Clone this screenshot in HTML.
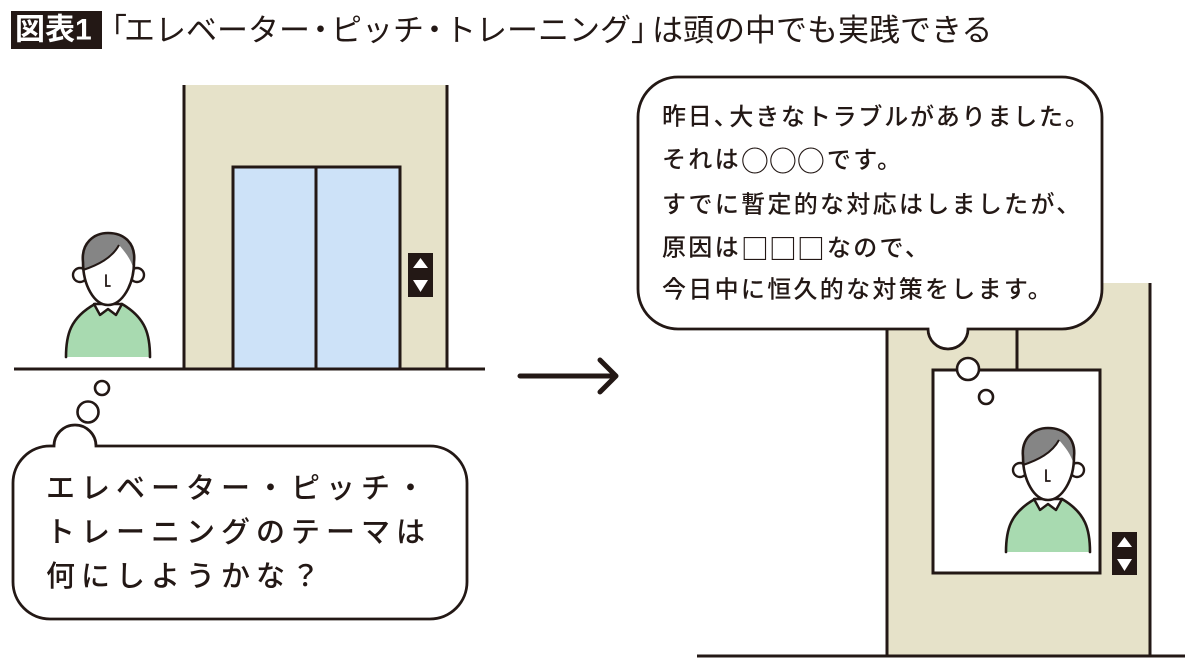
<!DOCTYPE html>
<html><head><meta charset="utf-8"><style>
html,body{margin:0;padding:0;background:#fff;}
svg{display:block;}
text{font-family:"Liberation Sans","Noto Sans CJK JP",sans-serif;}
.cjk{font-family:"Noto Sans CJK JP",sans-serif;}
</style></head><body>
<svg width="1200" height="672" viewBox="0 0 1200 672" xmlns="http://www.w3.org/2000/svg">
<defs>
<g id="person">
  <path d="M66,357 C66,335 70,318 95,304 L122,304 C146,318 150,335 150,357 Z" fill="#a8dab0"/>
  <path d="M66,357 C66,335 70,318 95,304 M122,304 C146,318 150,335 150,357" fill="none" stroke="#231815" stroke-width="2.6" stroke-linecap="round"/>
  <path d="M94,304 L100,315 L108,309 L116,315 L122,304 Z" fill="#fff" stroke="#231815" stroke-width="2.4" stroke-linejoin="round"/>
  <circle cx="80" cy="275" r="7" fill="#fff" stroke="#231815" stroke-width="2.4"/>
  <circle cx="137" cy="275" r="7" fill="#fff" stroke="#231815" stroke-width="2.4"/>
  <path d="M83,262 C81,243 94,233 108,233 C124,233 136,243 134,262 C134,285 122,305 108,305 C94,305 83,285 83,262 Z" fill="#fff"/>
  <path d="M83,270 C80,245 94,232 108,232 C125,232 137,245 134,270 C131,259 125,252 119,245 C112,258 98,265 83,270 Z" fill="#858585"/>
  <path d="M83,262 C81,243 94,233 108,233 C124,233 136,243 134,262 C134,285 122,305 108,305 C94,305 83,285 83,262 Z" fill="none" stroke="#231815" stroke-width="2.6"/>
  <path d="M119,245 C112,258 98,265 83,270" fill="none" stroke="#231815" stroke-width="2"/>
  <path d="M106,275 L106,286 L110,286" fill="none" stroke="#231815" stroke-width="1.8" stroke-linecap="round"/>
</g>
</defs>

<!-- Title -->
<rect x="11" y="11" width="91" height="38" fill="#231815"/>
<text x="15" y="30" font-size="30" font-weight="bold" fill="#fff" dominant-baseline="central">図表1</text>
<text x="96" y="30" font-size="31" fill="#231815" dominant-baseline="central">「<tspan dx="-3">エレベーター</tspan><tspan dx="-5">・</tspan><tspan dx="-5">ピッチ</tspan><tspan dx="-5">・</tspan><tspan dx="-5">トレーニング</tspan>」<tspan dx="-10">は頭の中でも実践できる</tspan></text>

<!-- Left elevator -->
<rect x="184" y="85" width="263" height="284" fill="#e6e2c9"/>
<line x1="184" y1="85" x2="184" y2="369" stroke="#231815" stroke-width="3"/>
<line x1="447" y1="85" x2="447" y2="369" stroke="#231815" stroke-width="3"/>
<rect x="233" y="167" width="167" height="202" fill="#cde2f8" stroke="#231815" stroke-width="3"/>
<line x1="316" y1="167" x2="316" y2="369" stroke="#231815" stroke-width="3"/>
<rect x="408" y="253" width="25" height="44" fill="#231815"/>
<path d="M420.5,258 L428,268 L413,268 Z" fill="#fff"/>
<path d="M413,280 L428,280 L420.5,292 Z" fill="#fff"/>
<line x1="14" y1="369" x2="485" y2="369" stroke="#231815" stroke-width="3"/>

<use href="#person"/>

<!-- left thought -->
<circle cx="102" cy="388" r="7" fill="#fff" stroke="#231815" stroke-width="2.6"/>
<circle cx="88" cy="412" r="10.5" fill="#fff" stroke="#231815" stroke-width="2.6"/>
<path d="M50,446 L54,446 A21 21 0 0 1 96,446 L430,446 A37 37 0 0 1 467,483 L467,582 A37 37 0 0 1 430,619 L50,619 A37 37 0 0 1 13,582 L13,483 A37 37 0 0 1 50,446 Z" fill="#fff" stroke="#231815" stroke-width="2.8"/>
<g font-size="29" fill="#231815" letter-spacing="6" font-weight="500">
<text x="46" y="489" dominant-baseline="central">エレベーター・ピッチ・</text>
<text x="46" y="533" dominant-baseline="central">トレーニングのテーマは</text>
<text x="46" y="577" dominant-baseline="central">何にしようかな？</text>
</g>

<!-- Arrow -->
<path d="M520,376 L616,376 M600,360 L616,376 L600,392" fill="none" stroke="#231815" stroke-width="5" stroke-linecap="round" stroke-linejoin="round"/>

<!-- Right elevator -->
<rect x="887" y="283" width="263" height="373" fill="#e6e2c9"/>
<line x1="887" y1="283" x2="887" y2="656" stroke="#231815" stroke-width="3"/>
<line x1="1150" y1="283" x2="1150" y2="656" stroke="#231815" stroke-width="3"/>
<line x1="1017" y1="320" x2="1017" y2="370" stroke="#231815" stroke-width="3"/>
<rect x="933" y="370" width="167" height="203" fill="#fff" stroke="#231815" stroke-width="3"/>
<rect x="1112" y="532" width="25" height="43" fill="#231815"/>
<path d="M1124.5,537 L1132,547 L1117,547 Z" fill="#fff"/>
<path d="M1117,559 L1132,559 L1124.5,571 Z" fill="#fff"/>
<line x1="697" y1="656" x2="1185" y2="656" stroke="#231815" stroke-width="3"/>

<use href="#person" transform="translate(940,195)"/>

<circle cx="968" cy="369" r="11" fill="#fff" stroke="#231815" stroke-width="2.6"/>
<circle cx="986" cy="397" r="7" fill="#fff" stroke="#231815" stroke-width="2.6"/>

<!-- Right bubble -->
<path d="M678,77 L1062,77 A40 40 0 0 1 1102,117 L1102,289 A40 40 0 0 1 1062,329 L968,329 A20 20 0 0 1 928,329 L678,329 A40 40 0 0 1 638,289 L638,117 A40 40 0 0 1 678,77 Z" fill="#fff" stroke="#231815" stroke-width="2.8"/>
<g font-size="24" fill="#231815" letter-spacing="2.3" font-weight="500">
<text x="662" y="117" dominant-baseline="central" letter-spacing="1.8">昨日<tspan dx="0">、</tspan><tspan dx="-10">大きなトラブルがありました。</tspan></text>
<text x="662" y="160" dominant-baseline="central">それは<tspan class="cjk" font-size="28" letter-spacing="0" dominant-baseline="central">○○○</tspan><tspan dx="2">です。</tspan></text>
<text x="662" y="205" dominant-baseline="central">すでに暫定的な対応はしましたが、</text>
<text x="662" y="248" dominant-baseline="central">原因は<tspan class="cjk" font-size="28" letter-spacing="0" dominant-baseline="central">□□□</tspan><tspan dx="2">なので、</tspan></text>
<text x="662" y="290" dominant-baseline="central">今日中に恒久的な対策をします。</text>
</g>
</svg>
</body></html>
